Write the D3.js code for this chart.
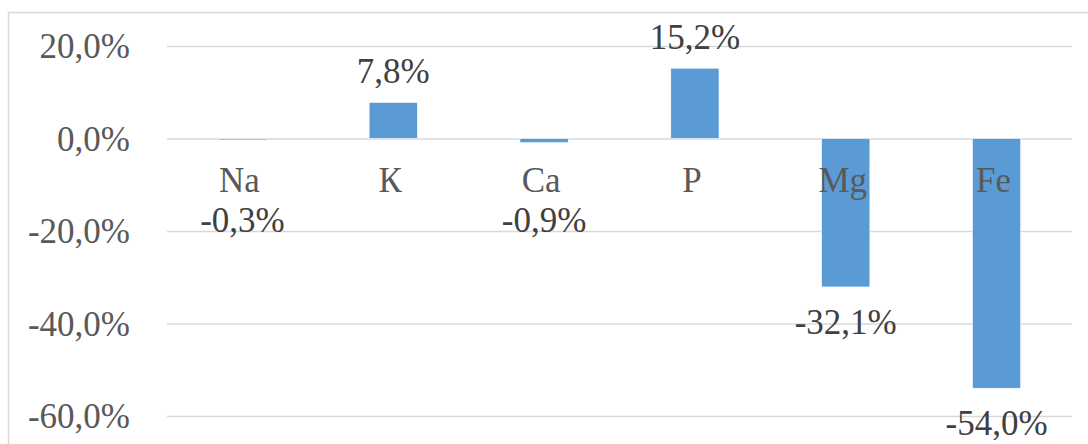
<!DOCTYPE html>
<html>
<head>
<meta charset="utf-8">
<script src="https://cdn.jsdelivr.net/npm/d3@7"></script>
<style>
  html, body { margin: 0; padding: 0; background: #fff; }
  svg { display: block; }
  svg text { font-family: "Liberation Serif", "Times New Roman", "DejaVu Serif", serif; }
</style>
</head>
<body>
<svg id="chart" width="1088" height="444"></svg>
<script>
// Change in element content, percent
const categories = ["Na", "К", "Ca", "P", "Mg", "Fe"];
const values = [-0.3, 7.8, -0.9, 15.2, -32.1, -54.0];
const tickValues = [20, 0, -20, -40, -60];

const fmt = v => d3.format(".1f")(v).replace(".", ",").replace("−", "-") + "%";

const svg = d3.select("#chart");
const W = 1088, H = 444;
const plot = { left: 167, right: 1072, top: 46, bottom: 416 };
const FONT_SIZE = 35;

// Chart-area frame
svg.append("rect")
  .attr("x", 8.5).attr("y", 12.5)
  .attr("width", W + 10).attr("height", H + 10)
  .attr("fill", "#fff").attr("stroke", "#d9d9d9").attr("stroke-width", 1.5);

const x = d3.scaleBand().domain(categories).range([plot.left, plot.right]).padding(0);
const y = d3.scaleLinear().domain([-60, 20]).range([plot.bottom, plot.top]);

// Horizontal gridlines and tick labels
const yAxis = d3.axisLeft(y).tickValues(tickValues)
  .tickSize(-(plot.right - plot.left)).tickFormat(fmt).tickPadding(37);

const gy = svg.append("g")
  .attr("transform", `translate(${plot.left},0)`)
  .call(yAxis)
  .attr("font-family", null);
gy.select(".domain").remove();
gy.selectAll(".tick line").attr("stroke", "#d9d9d9").attr("stroke-width", 1.5);
gy.selectAll(".tick text")
  .attr("fill", "#595959")
  .attr("font-size", FONT_SIZE)
  .attr("dy", "0.33em");

// Bars
const barW = x.bandwidth() * 0.32;
svg.append("g").selectAll("rect")
  .data(categories.map((c, i) => ({ c, v: values[i] })))
  .join("rect")
  .attr("x", d => x(d.c) + (x.bandwidth() - barW) / 2)
  .attr("width", barW)
  .attr("y", d => Math.min(y(d.v), y(0)))
  .attr("height", d => Math.abs(y(d.v) - y(0)))
  .attr("fill", "#5b9bd5")
  .attr("stroke", "#ffffff")
  .attr("stroke-width", 0.6);

// Category labels below the zero line
svg.append("g").selectAll("text")
  .data(categories)
  .join("text")
  .attr("x", d => x(d) + x.bandwidth() / 2 - 3)
  .attr("y", y(0) + 53)
  .attr("text-anchor", "middle")
  .attr("fill", "#595959")
  .attr("font-size", FONT_SIZE)
  .text(d => d);

// Value labels: above positive bars, below negative bars (clear of category labels)
svg.append("g").selectAll("text")
  .data(categories.map((c, i) => ({ c, v: values[i] })))
  .join("text")
  .attr("x", d => x(d.c) + x.bandwidth() / 2)
  .attr("y", d => d.v >= 0 ? y(d.v) - 19 : Math.max(y(d.v) + 47, y(0) + 93))
  .attr("text-anchor", "middle")
  .attr("fill", "#404040")
  .attr("font-size", FONT_SIZE)
  .text(d => fmt(d.v));
</script>
</body>
</html>
